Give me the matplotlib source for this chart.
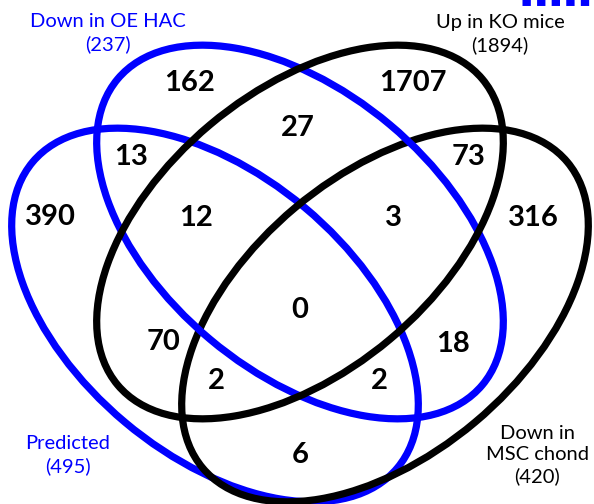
import matplotlib
matplotlib.use("Agg")
import matplotlib.pyplot as plt
from matplotlib.patches import Ellipse

# ---- data ----
set_names = ["Down in OE HAC", "Predicted", "Up in KO mice", "Down in\nMSC chond"]
set_sizes = [237, 495, 1894, 420]
set_colors = ["#0000FF", "#0000FF", "#000000", "#000000"]

# region counts (label text) in reading order
region_counts = [162, 1707, 27, 13, 73, 390, 12, 3, 316, 0, 70, 18, 2, 2, 6]

# ---- layout (pixel coordinates, y downward) ----
W, H = 594, 504
fig = plt.figure(figsize=(W / 100, H / 100), dpi=100)
ax = fig.add_axes([0, 0, 1, 1])
ax.set_xlim(0, W)
ax.set_ylim(H, 0)
ax.axis("off")

ell_geom = [  # (cx, cy, angle)
    (300, 232, 40),
    (215, 315, 40),
    (300, 232, -40),
    (385, 315, -40),
]
z_order = [3, 1, 4, 2]
A, B = 476, 280
for (cx, cy, ang), col, z in zip(ell_geom, set_colors, z_order):
    ax.add_patch(Ellipse((cx, cy), A, B, angle=ang, fill=False,
                         edgecolor=col, linewidth=5.2, zorder=z))

region_pos = [(190, 83), (413, 83), (298, 128), (131, 157), (469, 157),
              (50, 217), (196, 218), (393, 218), (533, 218), (300, 310),
              (164, 342), (453, 344), (216, 381), (379, 381), (300, 455)]
for (x, y), v in zip(region_pos, region_counts):
    ax.text(x, y, str(v), ha="center", va="center", fontsize=21,
            fontweight="bold", family="Lato", color="black", zorder=5)

label_pos = [(108, 33), (68, 455), (500, 34), (537, 455)]
for (x, y), name, n, col in zip(label_pos, set_names, set_sizes, set_colors):
    ax.text(x, y, f"{name}\n({n})", ha="center", va="center", fontsize=14.5,
            family="Lato", color=col, linespacing=1.3, zorder=5)

# small dotted blue mark at top right
ax.plot([522, 594], [2, 2], color="#0000FF", linewidth=5, linestyle=(0, (1.2, 0.9)),
        solid_capstyle="butt")

fig.savefig("out.png", dpi=100)
